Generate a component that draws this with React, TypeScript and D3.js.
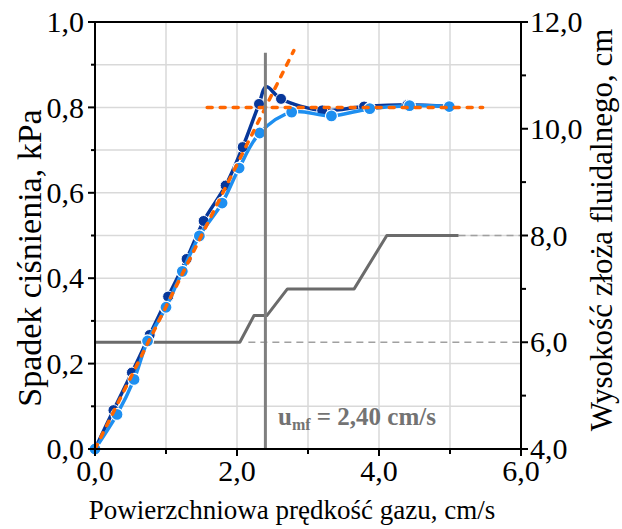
import React from "react";
import * as d3 from "d3";

// Dark series (measured points) — [u, dp]
const darkU = [0, 0.26, 0.52, 0.77, 1.03, 1.29, 1.53, 1.84, 2.08, 2.31, 2.62, 3.2, 3.79, 4.4, 4.99];
const darkV = [0, 0.091, 0.179, 0.267, 0.357, 0.445, 0.534, 0.617, 0.707, 0.808, 0.82, 0.793, 0.802, 0.806, 0.802];
// visible peak of the dark curve (no marker)
const darkPeak = [2.41, 0.848];

// Light series
const lightU = [0, 0.31, 0.55, 0.74, 1.0, 1.23, 1.47, 1.79, 2.03, 2.32, 2.77, 3.33, 3.87, 4.43, 4.99];
const lightV = [0, 0.081, 0.163, 0.253, 0.332, 0.416, 0.499, 0.576, 0.658, 0.74, 0.789, 0.78, 0.797, 0.804, 0.802];

// Orange guide lines
const slopeLineU = [0, 2.8];
const slopeLineV = [0, 0.933];
const flatLineU = [1.58, 5.46];
const flatLineV = [0.8, 0.8];

// Bed height (right axis)
const heightU = [0, 2.04, 2.24, 2.42, 2.71, 3.65, 4.11, 5.12];
const heightH = [6.0, 6.0, 6.5, 6.5, 7.0, 7.0, 8.0, 8.0];
const heightDash6U = [2.16, 6.0];
const heightDash8U = [5.12, 6.0];

const umf = 2.4;
const umfTopV = 0.928;

const xTicks = [0, 2, 4, 6];
const xMinor = [1, 3, 5];
const yTicks = [0, 0.2, 0.4, 0.6, 0.8, 1.0];
const yMinor = [0.1, 0.3, 0.5, 0.7, 0.9];
const y2Ticks = [4, 6, 8, 10, 12];
const y2Minor = [5, 7, 9, 11];

const fmt = (v: number) => d3.format(".1f")(v).replace(".", ",");

export default function App() {
  const W = 622, H = 529;
  const L = 95, R = 521, T = 22, B = 449;
  const x = d3.scaleLinear().domain([0, 6]).range([L, R]);
  const y = d3.scaleLinear().domain([0, 1]).range([B, T]);
  const y2 = d3.scaleLinear().domain([4, 12]).range([B, T]);

  const curve = d3.curveCatmullRom.alpha(0.5);
  const line = d3.line<[number, number]>().x((d) => x(d[0])).y((d) => y(d[1])).curve(curve);
  const lineStraight = d3.line<[number, number]>().x((d) => x(d[0])).y((d) => y(d[1]));
  const line2 = d3.line<[number, number]>().x((d) => x(d[0])).y((d) => y2(d[1]));

  const darkPts: [number, number][] = darkU.map((u, i) => [u, darkV[i]]);
  const darkLinePts = [...darkPts];
  const insertAt = darkLinePts.findIndex((p) => p[0] > darkPeak[0]);
  darkLinePts.splice(insertAt, 0, [darkPeak[0], darkPeak[1]]);
  const lightPts: [number, number][] = lightU.map((u, i) => [u, lightV[i]]);
  const heightPts: [number, number][] = heightU.map((u, i) => [u, heightH[i]]);

  const font = "Liberation Serif, Times New Roman, serif";
  const gridC = "#d9d9d9";
  const dark = "#07379a";
  const light = "#1e8ff0";
  const orange = "#ff6600";
  const tickFs = 30;

  return (
    <svg width={W} height={H} style={{ position: "absolute", left: 0, top: 0, background: "#fff" }}>
      {/* grid */}
      {[...yTicks, ...yMinor].map((v) => (
        <line key={"gy" + v} x1={L} x2={R} y1={y(v)} y2={y(v)} stroke={gridC} strokeWidth={1.5} />
      ))}
      {[...xTicks, ...xMinor].map((v) => (
        <line key={"gx" + v} x1={x(v)} x2={x(v)} y1={T} y2={B} stroke={gridC} strokeWidth={1.5} />
      ))}

      {/* dashed height references */}
      <line x1={x(heightDash6U[0])} x2={x(heightDash6U[1])} y1={y2(6)} y2={y2(6)} stroke="#a0a0a0" strokeWidth={1.5} strokeDasharray="7,5" />
      <line x1={x(heightDash8U[0])} x2={x(heightDash8U[1])} y1={y2(8)} y2={y2(8)} stroke="#a0a0a0" strokeWidth={1.5} strokeDasharray="7,5" />

      {/* bed height step line */}
      <path d={line2(heightPts) || ""} fill="none" stroke="#6b6b6b" strokeWidth={3} strokeLinejoin="round" />

      {/* dark series */}
      <path d={line(darkLinePts) || ""} fill="none" stroke={dark} strokeWidth={3.5} />
      {darkPts.map((p, i) => (
        <circle key={"d" + i} cx={x(p[0])} cy={y(p[1])} r={5.5} fill={dark} stroke="#fff" strokeWidth={1} />
      ))}

      {/* light series */}
      <path d={line(lightPts) || ""} fill="none" stroke={light} strokeWidth={3.5} />
      {lightPts.map((p, i) => (
        <circle key={"l" + i} cx={x(p[0])} cy={y(p[1])} r={6} fill={light} stroke="#fff" strokeWidth={1.2} />
      ))}

      {/* orange guides */}
      <path d={lineStraight([[slopeLineU[0], slopeLineV[0]], [slopeLineU[1], slopeLineV[1]]]) || ""} stroke={orange} strokeWidth={3.5} strokeDasharray="5,8" strokeLinecap="round" fill="none" />
      <path d={lineStraight([[flatLineU[0], flatLineV[0]], [flatLineU[1], flatLineV[1]]]) || ""} stroke={orange} strokeWidth={3.5} strokeDasharray="5,8" strokeLinecap="round" fill="none" />

      {/* umf vertical */}
      <line x1={x(umf)} x2={x(umf)} y1={y(0)} y2={y(umfTopV)} stroke="#7f7f7f" strokeWidth={3} />

      {/* axes */}
      <line x1={L} x2={L} y1={T} y2={B} stroke="#000" strokeWidth={2} />
      <line x1={R} x2={R} y1={T} y2={B} stroke="#000" strokeWidth={2} />
      <line x1={L} x2={R} y1={B} y2={B} stroke="#000" strokeWidth={2} />
      <line x1={L} x2={R} y1={T} y2={T} stroke="#000" strokeWidth={2} />

      {yTicks.map((v) => (
        <g key={"yt" + v}>
          <line x1={L - 7} x2={L} y1={y(v)} y2={y(v)} stroke="#000" strokeWidth={2} />
          <text x={L - 11} y={y(v)} dy="0.34em" textAnchor="end" fontSize={tickFs} fontFamily={font}>{fmt(v)}</text>
        </g>
      ))}
      {yMinor.map((v) => (
        <line key={"ym" + v} x1={L - 4} x2={L} y1={y(v)} y2={y(v)} stroke="#000" strokeWidth={2} />
      ))}
      {xTicks.map((v) => (
        <g key={"xt" + v}>
          <line x1={x(v)} x2={x(v)} y1={B} y2={B + 7} stroke="#000" strokeWidth={2} />
          <text x={x(v)} y={B + 32} textAnchor="middle" fontSize={tickFs} fontFamily={font}>{fmt(v)}</text>
        </g>
      ))}
      {xMinor.map((v) => (
        <line key={"xm" + v} x1={x(v)} x2={x(v)} y1={B} y2={B + 5} stroke="#000" strokeWidth={2} />
      ))}
      {y2Ticks.map((v) => (
        <g key={"y2t" + v}>
          <line x1={R} x2={R + 7} y1={y2(v)} y2={y2(v)} stroke="#000" strokeWidth={2} />
          <text x={R + 9} y={y2(v)} dy="0.34em" textAnchor="start" fontSize={tickFs} fontFamily={font}>{fmt(v)}</text>
        </g>
      ))}
      {y2Minor.map((v) => (
        <line key={"y2m" + v} x1={R} x2={R + 5} y1={y2(v)} y2={y2(v)} stroke="#000" strokeWidth={2} />
      ))}

      {/* titles */}
      <text x={292} y={519} textAnchor="middle" fontSize={27} fontFamily={font}>Powierzchniowa prędkość gazu, cm/s</text>
      <text transform={`translate(41,258) rotate(-90)`} textAnchor="middle" fontSize={34} fontFamily={font}>Spadek ciśnienia, kPa</text>
      <text transform={`translate(612,230) rotate(-90)`} textAnchor="middle" fontSize={31} fontFamily={font}>Wysokość złoża fluidalnego, cm</text>

      {/* umf label */}
      <text x={278} y={425} fontSize={25} fontWeight="bold" fill="#737373" fontFamily={font}>
        u<tspan fontSize={16} dy={5}>mf</tspan><tspan dy={-5}> = 2,40 cm/s</tspan>
      </text>
    </svg>
  );
}
